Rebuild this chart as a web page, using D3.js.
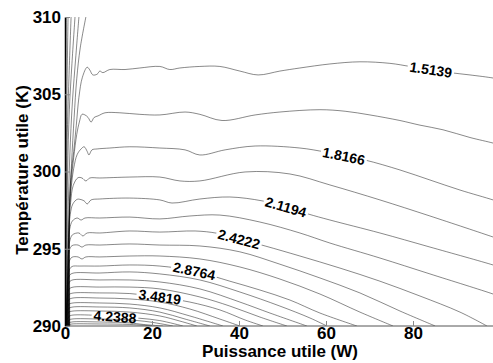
<!DOCTYPE html>
<html>
<head>
<meta charset="utf-8">
<script src="https://cdn.jsdelivr.net/npm/d3@7"></script>
<style>
  body { margin: 0; background: #fff; }
  text { font-family: "Liberation Sans", Arial, sans-serif; font-weight: bold; }
</style>
</head>
<body>
<div id="chart"></div>
<script>
// contour levels (one per traced line, same order as contourLines)
const levels = [0.6056, 0.7570, 0.9084, 1.0598, 1.2111, 1.3625, 1.5139, 1.6653, 1.8166, 1.9680,
  2.1194, 2.2708, 2.4222, 2.5736, 2.7250, 2.8764, 3.0277, 3.1791, 3.3305, 3.4819,
  3.6333, 3.7847, 3.9361, 4.0874, 4.2388, 4.3902, 4.5416, 4.6930];

// traced contour lines, points as [puissance W, temperature K]
const contourLines = [
  [[0.3,310],[0.15,302],[0.1,290]],
  [[0.7,310],[0.4,304],[0.2,296],[0.15,290]],
  [[1.4,310],[0.9,306],[0.5,302],[0.3,296],[0.2,290]],
  [[2.3,310],[1.6,307],[1.0,304],[0.6,300],[0.4,295],[0.3,290]],
  [[3.2,310],[2.5,307.5],[1.7,304.5],[1.1,301],[0.7,297],[0.5,292],[0.45,290]],
  [[4.8,310],[3.5,308],[2.7,306],[2.1,303.5],[1.5,300.5],[1.1,298],[1.1,290]],
  [[1.05,290],[1.05,298],[1.4,299.8],[2.0,301.3],[2.6,303],[3.2,304.8],[4.0,306.1],[5.1,306.75],[5.7,306.57],[6.4,306.25],[7.4,306.3],[8.0,306.5],[8.7,306.4],[10.3,306.6],[13.8,306.6],[17.2,306.7],[21.8,306.8],[24.1,306.6],[26.4,306.7],[31.0,306.8],[35.6,306.8],[40.2,306.5],[44.4,306.25],[49.4,306.5],[54.0,306.7],[60.9,306.96],[67.8,307.1],[74.7,307.0],[79.3,306.8],[83.9,306.6],[88.5,306.4],[93.1,306.25],[98.4,306.05],[100,305.95]],
  [[1.0,290],[1.0,297.5],[1.4,299.3],[2.0,300.9],[2.7,302.4],[3.3,303.2],[3.9,303.7],[4.6,303.66],[5.3,303.5],[6.0,303.2],[6.7,303.5],[7.6,303.6],[9.2,303.8],[12.6,303.8],[17.2,303.7],[21.8,303.66],[27.6,303.85],[31.0,303.7],[36.1,303.3],[43.7,303.66],[49.4,303.85],[58.6,304.0],[64.4,303.9],[70.1,303.66],[77.0,303.3],[81.6,303.0],[86.9,302.7],[93.1,302.2],[98.4,301.84],[100,301.7]],
  [[0.95,290],[0.95,297],[1.3,298.6],[2.0,300.2],[2.8,301.1],[3.7,301.46],[4.4,301.6],[5.1,301.3],[5.5,301.07],[6.2,301.4],[7.4,301.46],[10.3,301.52],[14.9,301.6],[21.8,301.52],[27.6,301.4],[31.0,301.07],[36.8,301.4],[43.7,301.65],[54.0,301.52],[59.8,301.26],[64.1,301.0],[69.0,300.74],[77.0,300.1],[83.9,299.45],[90.8,298.8],[98.4,298.16],[100,298.0]],
  [[0.9,290],[0.9,296.5],[1.3,298.0],[1.9,299.1],[3.0,299.6],[3.9,299.58],[4.8,299.39],[5.7,299.58],[8.0,299.58],[14.9,299.64],[21.8,299.64],[26.4,299.39],[31.0,299.39],[41.4,299.97],[51.7,299.84],[60.9,299.13],[72.4,298.16],[83.9,297.12],[98.4,295.76],[100,295.6]],
  [[0.85,290],[0.85,296],[1.2,297.2],[1.8,297.9],[2.8,298.2],[3.4,298.2],[4.4,298.1],[5.1,297.9],[6.0,298.16],[8.0,298.22],[14.9,298.28],[21.8,298.16],[24.6,297.96],[31.0,298.22],[37.9,298.35],[45.3,298.1],[50.8,297.7],[55.9,297.25],[60.9,296.86],[72.4,296.02],[83.9,295.11],[98.4,293.95],[100,293.8]],
  [[0.8,290],[0.8,295.5],[1.1,296.3],[1.7,296.8],[2.8,296.99],[3.7,296.86],[4.6,296.99],[8.0,296.99],[14.9,297.05],[21.8,296.93],[28.7,297.12],[35.6,297.18],[44.8,296.73],[54.0,296.02],[60.9,295.37],[72.4,294.4],[83.9,293.37],[98.4,292.07],[100,291.9]],
  [[0.75,290],[0.75,294.8],[1.1,295.5],[1.7,295.9],[3.2,296.02],[4.1,295.83],[5.1,296.02],[8.0,296.02],[14.9,296.15],[21.8,296.08],[29.9,296.15],[35.0,296.0],[40.0,295.63],[46.0,295.18],[54.0,294.53],[63.2,293.75],[72.4,292.9],[81.6,291.94],[90.8,290.9],[97.0,290]],
  [[0.7,290],[0.7,294.2],[1.0,294.9],[1.6,295.2],[3.0,295.24],[3.9,295.11],[4.8,295.24],[8.0,295.24],[14.9,295.31],[21.8,295.24],[31.0,295.18],[40.2,294.8],[49.4,294.0],[58.6,293.11],[67.8,292.14],[77.0,290.97],[85.1,290]],
  [[0.65,290],[0.65,293.6],[1.0,294.2],[1.6,294.45],[3.0,294.47],[3.9,294.34],[4.8,294.47],[8.0,294.47],[14.9,294.53],[21.8,294.53],[31.0,294.34],[40.2,293.82],[49.4,293.04],[58.6,292.07],[67.8,290.9],[75.4,290]],
  [[0.6,290],[0.6,293.0],[0.95,293.6],[1.6,293.85],[3.4,293.88],[8.0,293.88],[14.9,293.95],[21.8,293.88],[29.7,293.56],[37.9,292.9],[44.8,292.33],[51.7,291.68],[58.6,290.84],[67.1,290]],
  [[0.55,290],[0.55,292.6],[0.9,293.2],[1.6,293.4],[8.0,293.43],[14.9,293.5],[21.8,293.37],[31.0,292.98],[40.2,292.2],[49.4,291.29],[56.3,290.52],[60.2,290]],
  [[0.5,290],[0.5,292.2],[0.9,292.8],[1.6,292.97],[8.0,292.98],[14.9,292.98],[21.8,292.85],[31.0,292.4],[40.2,291.55],[47.1,290.84],[55.6,290]],
  [[0.45,290],[0.45,291.8],[0.85,292.35],[1.6,292.5],[8.0,292.52],[14.9,292.52],[21.8,292.4],[31.0,291.88],[37.9,291.29],[44.8,290.58],[51.0,290]],
  [[0.4,290],[0.4,291.4],[0.8,292.0],[1.6,292.12],[8.0,292.14],[14.9,292.1],[21.8,291.88],[28.7,291.55],[35.6,291.04],[41.4,290.39],[45.5,290]],
  [[0.35,290],[0.35,291.1],[0.8,291.68],[1.6,291.8],[8.0,291.81],[14.9,291.75],[21.8,291.55],[28.7,291.1],[35.6,290.45],[40.2,290]],
  [[0.3,290],[0.3,290.8],[0.8,291.38],[1.6,291.48],[8.0,291.49],[14.9,291.42],[21.8,291.17],[28.7,290.65],[36.3,290]],
  [[0.25,290],[0.25,290.6],[0.8,291.12],[1.6,291.22],[8.0,291.23],[14.9,291.17],[21.8,290.9],[27.6,290.45],[33.3,290]],
  [[0.2,290],[0.2,290.4],[0.8,290.88],[1.6,290.96],[8.0,290.97],[14.9,290.9],[21.8,290.65],[26.4,290.32],[30.3,290]],
  [[0.15,290],[0.5,290.45],[1.0,290.63],[1.6,290.7],[8.0,290.68],[11.5,290.6],[17.2,290.5],[21.8,290.35],[27.1,290]],
  [[0.4,290],[0.9,290.38],[1.6,290.45],[8.0,290.45],[14.9,290.39],[19.5,290.26],[24.8,290]],
  [[0.6,290],[1.0,290.2],[1.6,290.26],[8.0,290.26],[14.9,290.2],[18.0,290.1],[22.5,290]],
  [[0.8,290],[1.2,290.1],[1.6,290.13],[8.0,290.13],[14.9,290.1],[20.2,290]]
];

// inline contour labels: which line, and where along it (W)
const labelLine = [6, 8, 10, 12, 15, 19, 24];
const labelW = [84.1, 64.1, 50.8, 40.0, 29.7, 21.8, 11.5];

const xTicks = [0, 20, 40, 60, 80];
const yTicks = [290, 295, 300, 305, 310];

const width = 493, height = 363;
const mLeft = 65, mTop = 17, mBottom = 326;

const x = d3.scaleLinear().domain([0, 100]).range([mLeft, 500]);
const y = d3.scaleLinear().domain([290, 310]).range([mBottom, mTop]);

const svg = d3.select("#chart").append("svg")
  .attr("width", width)
  .attr("height", height);

const defs = svg.append("defs");
defs.append("clipPath").attr("id", "plotClip")
  .append("rect")
  .attr("x", mLeft).attr("y", mTop - 1)
  .attr("width", width - mLeft).attr("height", mBottom - mTop + 1);

// find T on the horizontal part of a traced line
function tempAt(pts, w) {
  for (let i = 1; i < pts.length; i++) {
    const a = pts[i - 1], b = pts[i];
    if (a[0] >= 2 && a[0] <= w && b[0] >= w) {
      return a[1] + (b[1] - a[1]) * (w - a[0]) / (b[0] - a[0]);
    }
  }
  return pts[pts.length - 1][1];
}

const line = d3.line()
  .x(d => x(d[0]))
  .y(d => y(d[1]))
  .curve(d3.curveCatmullRom.alpha(0.5));

const labelFont = 14;

// label geometry
const labels = labelLine.map((li, i) => {
  const pts = contourLines[li];
  const w = labelW[i];
  const px = x(w), py = y(tempAt(pts, w));
  const x1 = x(w - 3), y1 = y(tempAt(pts, w - 3));
  const x2 = x(w + 3), y2 = y(tempAt(pts, w + 3));
  const angle = Math.atan2(y2 - y1, x2 - x1) * 180 / Math.PI;
  return { li, px, py, angle, text: levels[li].toFixed(4) };
});

// measure label widths
const measure = svg.append("text").attr("font-size", labelFont);
labels.forEach(l => {
  measure.text(l.text);
  l.w = measure.node().getComputedTextLength();
});
measure.remove();

// masks that cut a gap in the labelled line
labels.forEach((l, i) => {
  const m = defs.append("mask").attr("id", "gap" + i)
    .attr("maskUnits", "userSpaceOnUse")
    .attr("x", 0).attr("y", 0).attr("width", width).attr("height", height);
  m.append("rect").attr("x", 0).attr("y", 0).attr("width", width).attr("height", height).attr("fill", "#fff");
  m.append("rect")
    .attr("x", -l.w / 2 - 2).attr("y", -7)
    .attr("width", l.w + 4).attr("height", 14)
    .attr("fill", "#000")
    .attr("transform", `translate(${l.px},${l.py}) rotate(${l.angle})`);
});

const plot = svg.append("g").attr("clip-path", "url(#plotClip)");

// thin black lines, translucent so that crowded lines near the axis build up to black
plot.selectAll("path.contour")
  .data(contourLines)
  .enter()
  .append("path")
  .attr("class", "contour")
  .attr("d", line)
  .attr("fill", "none")
  .attr("stroke", "#000")
  .attr("stroke-opacity", 0.55)
  .attr("stroke-width", 0.85)
  .attr("mask", (d, i) => {
    const j = labelLine.indexOf(i);
    return j >= 0 ? `url(#gap${j})` : null;
  });

// contour labels
svg.selectAll("text.clabel")
  .data(labels)
  .enter()
  .append("text")
  .attr("class", "clabel")
  .attr("font-size", labelFont)
  .attr("text-anchor", "middle")
  .attr("dy", "0.36em")
  .attr("fill", "#000")
  .attr("transform", d => `translate(${d.px},${d.py}) rotate(${d.angle})`)
  .text(d => d.text);

// axes, ticks inward
const xAxis = d3.axisBottom(x).tickValues(xTicks).tickSize(-5).tickSizeOuter(0).tickPadding(1);
const yAxis = d3.axisLeft(y).tickValues(yTicks).tickSize(-5).tickSizeOuter(0).tickPadding(4);

const gx = svg.append("g")
  .attr("transform", `translate(0,${mBottom})`)
  .call(xAxis);
gx.select(".domain").attr("d", `M${mLeft},0H${width}`).attr("stroke", "#555");

const gy = svg.append("g")
  .attr("transform", `translate(${mLeft},0)`)
  .call(yAxis);
gy.select(".domain").attr("stroke", "#000").attr("stroke-width", 1.5);

svg.selectAll(".tick line").attr("stroke", "#888");
svg.selectAll(".tick text")
  .attr("font-size", 17)
  .attr("font-family", "'Liberation Sans', Arial, sans-serif")
  .attr("font-weight", "bold")
  .attr("fill", "#000");

// axis titles
svg.append("text")
  .attr("x", 280)
  .attr("y", 357)
  .attr("text-anchor", "middle")
  .attr("font-size", 17)
  .text("Puissance utile (W)");

svg.append("text")
  .attr("transform", "translate(28,170) rotate(-90)")
  .attr("text-anchor", "middle")
  .attr("font-size", 17)
  .text("Température utile (K)");
</script>
</body>
</html>
